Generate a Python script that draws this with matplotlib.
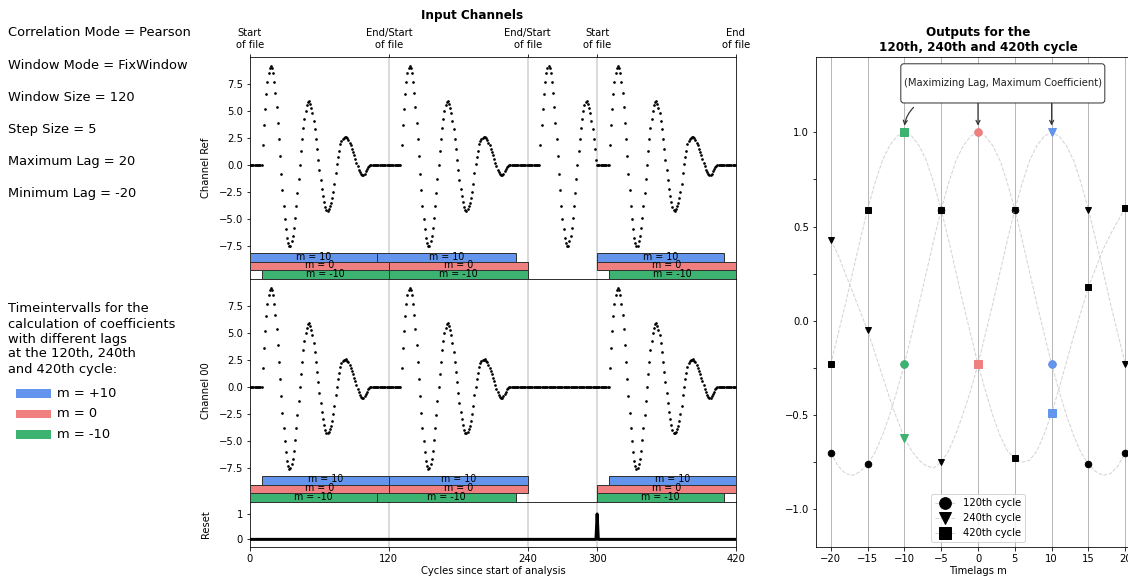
import numpy as np
import matplotlib
matplotlib.use("Agg")
import matplotlib.pyplot as plt
from matplotlib.patches import Rectangle

# ---------------- data ----------------
settings_lines = ["Correlation Mode = Pearson", "Window Mode = FixWindow",
                  "Window Size = 120", "Step Size = 5",
                  "Maximum Lag = 20", "Minimum Lag = -20"]

interval_title = ("Timeintervalls for the\ncalculation of coefficients\n"
                  "with different lags\nat the 120th, 240th\nand 420th cycle:")
interval_labels = ["m = +10", "m = 0", "m = -10"]

# one recorded pulse (value per cycle inside a file of 120 cycles)
pulse = [0, 0, 0, 0, 0, 0, 0, 0, 0, 0, 0,
         1.8, 3.65, 5.2, 6.55, 7.65, 8.5, 9.0, 9.15, 9.0, 8.5,
         7.65, 6.7, 5.4, 3.9, 2.35, 0.8, -0.85, -2.35, -3.8, -5.0,
         -6.0, -6.8, -7.3, -7.55, -7.5, -7.1, -6.65, -5.9, -4.9, -3.8,
         -2.6, -1.3, 0.0, 1.25, 2.35, 3.45, 4.25, 5.0, 5.5, 5.8,
         5.9, 5.65, 5.3, 4.8, 4.1, 3.3, 2.35, 1.45, 0.45, -0.5,
         -1.45, -2.25, -2.9, -3.5, -3.95, -4.2, -4.25, -4.1, -3.85, -3.55,
         -3.1, -2.5, -1.75, -0.75, 0.05, 0.75, 1.3, 1.9, 2.2, 2.4,
         2.5, 2.55, 2.58, 2.45, 2.3, 2.05, 1.8, 1.5, 1.2, 0.9,
         0.55, 0.2, -0.15, -0.45, -0.7, -0.9, -0.98, -0.95, -0.85, -0.6,
         -0.4, -0.2, -0.08, -0.02,
         0, 0, 0, 0, 0, 0, 0, 0, 0, 0, 0, 0, 0, 0, 0]

file_starts = [0, 120, 240, 300]
file_lengths = [120, 120, 60, 120]
ref_file_has_pulse = [True, True, True, True]
ch00_file_has_pulse = [True, True, False, True]
reset_cycles = [300]
n_cycles = 420

top_ticks = [0, 120, 240, 300, 420]
top_tick_labels = ["Start\nof file", "End/Start\nof file", "End/Start\nof file",
                   "Start\nof file", "End\nof file"]
bottom_ticks = [0, 120, 240, 300, 420]
file_borders = [120, 240, 300]

bar_names = ["m = 10", "m = 0", "m = -10"]
bar_colors = ["#6495ED", "#F08080", "#3CB371"]
ref_intervals = [[(0, 110), (110, 230), (300, 410)],
                 [(0, 120), (120, 240), (300, 420)],
                 [(10, 120), (120, 240), (310, 420)]]
ch00_intervals = [[(10, 120), (120, 240), (310, 420)],
                  [(0, 120), (120, 240), (300, 420)],
                  [(0, 110), (110, 230), (300, 410)]]

lags = list(range(-20, 21))
coef_120 = [-0.70, -0.77, -0.81, -0.82, -0.80, -0.76, -0.70, -0.61, -0.50, -0.37,
            -0.23, -0.07, 0.09, 0.26, 0.43, 0.59, 0.73, 0.85, 0.93, 0.98,
            1.00,
            0.98, 0.93, 0.85, 0.73, 0.59, 0.43, 0.26, 0.09, -0.07, -0.23,
            -0.37, -0.50, -0.61, -0.70, -0.76, -0.80, -0.82, -0.81, -0.77, -0.70]
coef_240 = [0.43, 0.35, 0.25, 0.15, 0.05, -0.05, -0.17, -0.29, -0.41, -0.52,
            -0.62, -0.69, -0.74, -0.77, -0.78, -0.75, -0.69, -0.60, -0.49, -0.37,
            -0.23,
            -0.07, 0.09, 0.26, 0.43, 0.59, 0.73, 0.85, 0.93, 0.98, 1.00,
            0.98, 0.93, 0.85, 0.73, 0.59, 0.43, 0.26, 0.09, -0.07, -0.23]
coef_420 = [-0.23, -0.07, 0.09, 0.26, 0.43, 0.59, 0.73, 0.85, 0.93, 0.98,
            1.00, 0.98, 0.93, 0.85, 0.73, 0.59, 0.43, 0.26, 0.09, -0.07,
            -0.23,
            -0.37, -0.50, -0.61, -0.69, -0.73, -0.75, -0.74, -0.69, -0.60, -0.49,
            -0.36, -0.22, -0.08, 0.05, 0.18, 0.28, 0.38, 0.46, 0.53, 0.60]
cycle_labels = ["120th cycle", "240th cycle", "420th cycle"]
cycle_markers = ["o", "v", "s"]
highlight_lags = [-10, 0, 10]
highlight_colors = ["#3CB371", "#F08080", "#6495ED"]
marker_step = 5

# ---------------- figure ----------------
W, H = 1128, 579
fig = plt.figure(figsize=(W / 72, H / 72), dpi=72)


def fx(px):
    return px / W


def fy(py):
    return 1 - py / H


# left texts
for i, line in enumerate(settings_lines):
    fig.text(fx(8), fy(33 + 32.2 * i), line, fontsize=13, va="center", ha="left")

fig.text(fx(8), fy(339), interval_title, fontsize=13, va="center", ha="left",
         linespacing=1.2)
for i, (lab, col) in enumerate(zip(interval_labels, bar_colors)):
    yc = 393.3 + 20.5 * i
    fig.patches.append(Rectangle((fx(16), fy(yc + 4.3)), fx(34.5), 8.6 / H,
                                 transform=fig.transFigure, facecolor=col,
                                 edgecolor="none"))
    fig.text(fx(57), fy(yc), lab, fontsize=13, va="center", ha="left")

# middle axes
left, right = 250, 736
ax_ref = fig.add_axes([fx(left), fy(279), fx(right - left), (279 - 57) / H])
ax_00 = fig.add_axes([fx(left), fy(502), fx(right - left), (502 - 279) / H])
ax_rs = fig.add_axes([fx(left), fy(547), fx(right - left), (547 - 502) / H])


def build_signal(has_pulse):
    sig = []
    for length, present in zip(file_lengths, has_pulse):
        seg = pulse[:length] if present else [0.0] * length
        sig.extend(seg)
    return np.array(sig, dtype=float)


cycles = np.arange(n_cycles)
ref_signal = build_signal(ref_file_has_pulse)
ch00_signal = build_signal(ch00_file_has_pulse)
reset_signal = np.zeros(n_cycles + 1)
reset_x = np.arange(n_cycles + 1)
for c in reset_cycles:
    reset_signal[c] = 1.0

bar_h = 0.8
bar_centers = [-8.6, -9.4, -10.2]
for ax, sig, intervals, name in [(ax_ref, ref_signal, ref_intervals, "Channel Ref"),
                                 (ax_00, ch00_signal, ch00_intervals, "Channel 00")]:
    for b in file_borders:
        ax.axvline(b, color="#d3d3d3", lw=1.6, zorder=0)
    ax.plot(cycles, sig, "o", color="k", ms=2.7, mew=0, zorder=3)
    for k, ivs in enumerate(intervals):
        for (a, b) in ivs:
            ax.barh(bar_centers[k], b - a, left=a, height=bar_h,
                    color=bar_colors[k], edgecolor="#333333", lw=1.0, zorder=4)
            ax.text((a + b) / 2, bar_centers[k] + 0.08, bar_names[k], fontsize=9.5,
                    ha="center", va="center", zorder=5)
    ax.set_xlim(0, 420)
    ax.set_ylim(-10.6, 10.0)
    ax.set_yticks([-7.5, -5.0, -2.5, 0.0, 2.5, 5.0, 7.5])
    ax.set_ylabel(name, fontsize=10)
    ax.yaxis.set_label_coords(-0.08, 0.5)

ax_ref.set_xticks(top_ticks)
ax_ref.set_xticklabels(top_tick_labels)
ax_ref.tick_params(axis="x", top=True, labeltop=True, bottom=False, labelbottom=False)
ax_00.tick_params(axis="x", bottom=False, labelbottom=False)

for b in file_borders:
    ax_rs.axvline(b, color="#d3d3d3", lw=1.6, zorder=0)
ax_rs.plot(reset_x, reset_signal, color="k", lw=3, zorder=3)
ax_rs.set_xlim(0, 420)
ax_rs.set_ylim(-0.3, 1.47)
ax_rs.set_yticks([0, 1])
ax_rs.set_xticks(bottom_ticks)
ax_rs.set_xlabel("Cycles since start of analysis", fontsize=10, labelpad=2)
ax_rs.set_ylabel("Reset", fontsize=10)
ax_rs.yaxis.set_label_coords(-0.08, 0.5)

fig.text(fx(472), fy(16), "Input Channels", fontsize=12, fontweight="bold",
         ha="center", va="center")

# right axes
ax_r = fig.add_axes([fx(816), fy(547), fx(1140 - 816), (547 - 57) / H])
ax_r.set_xlim(-22, 22)
ax_r.set_ylim(-1.2, 1.4)
ax_r.set_xticks(list(range(-20, 21, 5)))
ax_r.grid(axis="x", color="#b8b8b8", lw=1.0)
ax_r.set_axisbelow(True)
ax_r.set_yticks([-1.0, -0.75, -0.5, -0.25, 0.0, 0.25, 0.5, 0.75, 1.0])
ax_r.set_yticklabels(["\u22121.0", "", "\u22120.5", "", "0.0", "", "0.5", "", "1.0"])

lag_arr = np.array(lags)
all_coefs = [coef_120, coef_240, coef_420]
handles = []
for coefs, lab, mk in zip(all_coefs, cycle_labels, cycle_markers):
    ln, = ax_r.plot(lag_arr, coefs, ls="--", color="#d3d3d3", lw=1.0, marker=mk,
                    mfc="k", mec="k", ms=6.5, markevery=marker_step, label=lab,
                    zorder=3)
    handles.append(ln)
for coefs, mk in zip(all_coefs, cycle_markers):
    for hl, hc in zip(highlight_lags, highlight_colors):
        ax_r.plot([hl], [coefs[lags.index(hl)]], marker=mk, color=hc, ms=7.5,
                  ls="none", zorder=4)

ax_r.legend(handles=handles, loc="lower center", fontsize=10, markerscale=1.8)
ax_r.set_xlabel("Timelags m", fontsize=10, labelpad=2)
ax_r.set_title("Outputs for the\n120th, 240th and 420th cycle", fontsize=12,
               fontweight="bold", x=(978 - 816) / (1140 - 816))

ax_r.text(3.37, 1.26, "\n(Maximizing Lag, Maximum Coefficient)\n", fontsize=10,
          ha="center", va="center", color="#222222",
          bbox=dict(boxstyle="round", fc="white", ec="#333333", lw=1.0))
arrow_kw = dict(arrowstyle="->", color="#333333", lw=1.2)
ax_r.annotate("", xy=(0, 1.025), xytext=(0, 1.165), arrowprops=arrow_kw)
ax_r.annotate("", xy=(10, 1.025), xytext=(10, 1.165), arrowprops=arrow_kw)
ax_r.annotate("", xy=(-10, 1.025), xytext=(-8.55, 1.14),
              arrowprops=dict(connectionstyle="arc3,rad=0.2", **arrow_kw))

fig.savefig("out.png", dpi=72)
